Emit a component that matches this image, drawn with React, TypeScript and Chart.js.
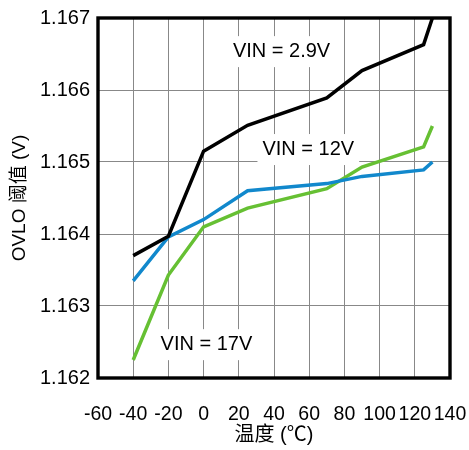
import React, { useEffect, useRef } from "react";
import { Chart, registerables } from "chart.js";

Chart.register(...registerables);

const temps = [-40, -20, 0, 25, 70, 90, 125, 130];
const vin29 = [1.1637, 1.16397, 1.16515, 1.16551, 1.16589, 1.16627, 1.16663, 1.167];
const vin12 = [1.16335, 1.16396, 1.1642, 1.1646, 1.1647, 1.1648, 1.16489, 1.165];
const vin17 = [1.16225, 1.16343, 1.1641, 1.16436, 1.16463, 1.16493, 1.16521, 1.1655];

const seriesNames = ["VIN = 2.9V", "VIN = 12V", "VIN = 17V"];
const seriesColors = ["#000000", "#1188cc", "#66c033"];

const labelX = [44.3, 59.5, 1.6];
const labelY = [1.16654, 1.16518, 1.16247];

const xTicks = [-60, -40, -20, 0, 20, 40, 60, 80, 100, 120, 140];
const yTicks = [1.162, 1.163, 1.164, 1.165, 1.166, 1.167];

const FONT = "'Liberation Sans', Arial, 'Noto Sans CJK SC', sans-serif";

export default function App() {
  const ref = useRef<HTMLCanvasElement | null>(null);

  useEffect(() => {
    const canvas = ref.current;
    if (!canvas) return;
    const allSeries = [vin29, vin12, vin17];

    const annotationPlugin = {
      id: "vinLabels",
      beforeDatasetsDraw(chart: any) {
        const { ctx, scales } = chart;
        ctx.save();
        ctx.font = `20px ${FONT}`;
        ctx.textAlign = "center";
        ctx.textBaseline = "middle";
        seriesNames.forEach((name, i) => {
          const px = scales.x.getPixelForValue(labelX[i]);
          const py = scales.y.getPixelForValue(labelY[i]);
          const w = ctx.measureText(name).width;
          ctx.fillStyle = "#ffffff";
          ctx.fillRect(px - w / 2 - 5, py - 15, w + 10, 31);
          ctx.fillStyle = "#000000";
          ctx.fillText(name, px, py);
        });
        ctx.restore();
      },
      afterDraw(chart: any) {
        const { ctx, chartArea } = chart;
        ctx.save();
        ctx.strokeStyle = "#000000";
        ctx.lineWidth = 3.4;
        ctx.strokeRect(
          chartArea.left,
          chartArea.top,
          chartArea.right - chartArea.left,
          chartArea.bottom - chartArea.top
        );
        ctx.restore();
      },
    };

    const chart = new Chart(canvas, {
      type: "line",
      data: {
        datasets: allSeries.map((s, i) => ({
          label: seriesNames[i],
          data: temps.map((t, j) => ({ x: t, y: s[j] })),
          borderColor: seriesColors[i],
          backgroundColor: seriesColors[i],
          borderWidth: 3.5,
          pointRadius: 0,
          tension: 0,
          fill: false,
        })),
      },
      options: {
        animation: false,
        responsive: false,
        maintainAspectRatio: false,
        layout: { padding: { top: 18, right: 19, left: 0, bottom: 0 } },
        plugins: {
          legend: { display: false },
          tooltip: { enabled: false },
        },
        scales: {
          x: {
            type: "linear",
            min: xTicks[0],
            max: xTicks[xTicks.length - 1],
            afterBuildTicks: (scale: any) => {
              scale.ticks = xTicks.map((v) => ({ value: v }));
            },
            afterFit: (scale: any) => {
              scale.height = 72;
              scale.paddingLeft = 0;
              scale.paddingRight = 0;
            },
            ticks: {
              padding: 25,
              color: "#000000",
              maxRotation: 0,
              minRotation: 0,
              autoSkip: false,
              font: { family: FONT, size: 19.5 },
              callback: (v: any) => String(v),
            },
            grid: { color: "#888888", lineWidth: 1, drawTicks: false },
            border: { display: false },
            title: {
              display: true,
              text: "温度 (℃)",
              color: "#000000",
              font: { family: FONT, size: 20, lineHeight: 1 },
              padding: { top: 0, bottom: 5 },
            },
          },
          y: {
            type: "linear",
            min: yTicks[0],
            max: yTicks[yTicks.length - 1],
            afterBuildTicks: (scale: any) => {
              scale.ticks = yTicks.map((v) => ({ value: v }));
            },
            afterFit: (scale: any) => {
              scale.width = 98;
              scale.paddingTop = 0;
              scale.paddingBottom = 0;
            },
            ticks: {
              padding: 8,
              color: "#000000",
              autoSkip: false,
              font: { family: FONT, size: 20 },
              callback: (v: any) => Number(v).toFixed(3),
            },
            grid: { color: "#888888", lineWidth: 1, drawTicks: false },
            border: { display: false },
            title: {
              display: true,
              text: "OVLO 阈值 (V)",
              color: "#000000",
              font: { family: FONT, size: 19, lineHeight: 1 },
              padding: { top: 10, bottom: 0 },
            },
          },
        },
      },
      plugins: [annotationPlugin],
    });

    return () => chart.destroy();
  }, []);

  return (
    <div style={{ position: "fixed", left: 0, top: 0, width: 469, height: 450, background: "#fff" }}>
      <canvas ref={ref} width={469} height={450} style={{ width: 469, height: 450, display: "block" }} />
    </div>
  );
}
